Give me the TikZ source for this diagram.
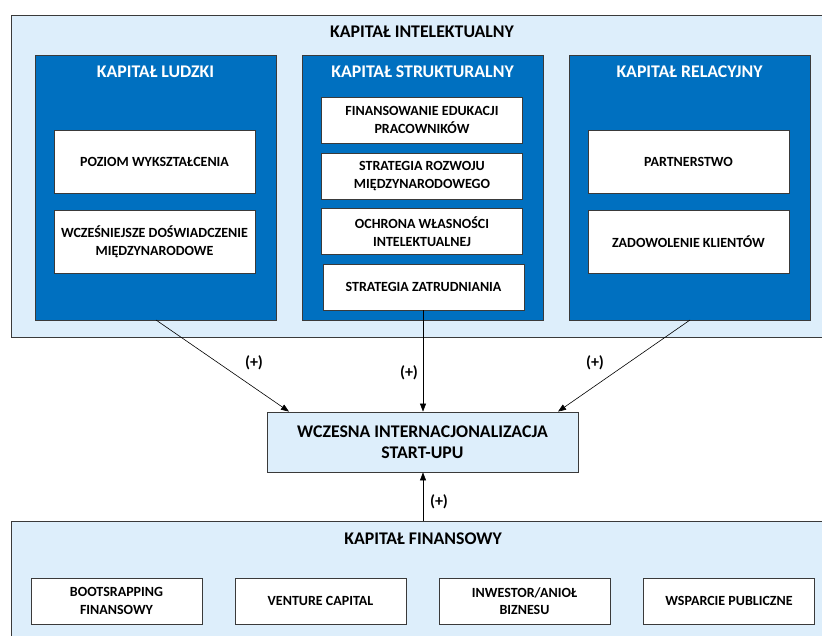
\documentclass[tikz,border=0pt]{standalone}
\usepackage{fontspec}
\setmainfont{Carlito}
\usetikzlibrary{arrows.meta}
\definecolor{paleblue}{HTML}{DDEEFB}
\definecolor{midblue}{HTML}{0070C0}
\definecolor{edge}{HTML}{3A3A3A}
\tikzset{
  frame/.style={draw=edge, line width=0.8pt, fill=paleblue},
  pillar/.style={draw=edge, line width=0.8pt, fill=midblue},
  itembox/.style={draw=edge, line width=0.8pt, fill=white, align=center,
    font=\bfseries\fontsize{14}{17.5}\selectfont, inner sep=0pt},
  head/.style={font=\bfseries\fontsize{17.8}{20}\selectfont},
  pillarhead/.style={font=\bfseries\fontsize{17.8}{20}\selectfont, text=white},
  link/.style={draw=black, line width=0.6pt, -{Triangle[length=8pt,width=6pt]}},
  sign/.style={font=\bfseries\fontsize{16}{18}\selectfont}
}
\begin{document}
\begin{tikzpicture}[x=1pt,y=-1pt]
\useasboundingbox (0,0) rectangle (822,635);
\clip (0,0) rectangle (822,635);

% intellectual capital frame
\draw[frame] (11,15) rectangle (830,337);
\node[head] (intel) at (422,32) {KAPITAŁ INTELEKTUALNY};

% three pillars
\draw[pillar] (35,55) rectangle (276,320);
\draw[pillar] (302,55) rectangle (543,320);
\draw[pillar] (569,55) rectangle (810,320);
\coordinate (ludzkiB) at (156,320);
\coordinate (relB) at (690,320);
\node[pillarhead] (ludzki) at (155.5,72) {KAPITAŁ LUDZKI};
\node[pillarhead] (strukt) at (422.5,72) {KAPITAŁ STRUKTURALNY};
\node[pillarhead] (relac) at (689.5,72) {KAPITAŁ RELACYJNY};

% human capital items
\node[itembox, minimum width=201pt, minimum height=63pt] (poziom) at (154.5,161.5) {POZIOM WYKSZTAŁCENIA};
\node[itembox, minimum width=201pt, minimum height=63pt] (dosw) at (154.5,241.5) {WCZEŚNIEJSZE DOŚWIADCZENIE\\MIĘDZYNARODOWE};

% structural capital items
\node[itembox, minimum width=201pt, minimum height=46pt] (fin) at (422,120) {FINANSOWANIE EDUKACJI\\PRACOWNIKÓW};
\node[itembox, minimum width=201pt, minimum height=46pt] (rozw) at (422,176) {STRATEGIA ROZWOJU\\MIĘDZYNARODOWEGO};
\node[itembox, minimum width=201pt, minimum height=46pt] (ochr) at (422,231.5) {OCHRONA WŁASNOŚCI\\INTELEKTUALNEJ};
\node[itembox, minimum width=201pt, minimum height=46pt] (zatr) at (423.5,287) {STRATEGIA ZATRUDNIANIA};

% relational capital items
\node[itembox, minimum width=201pt, minimum height=63pt] (partn) at (688.5,161.5) {PARTNERSTWO};
\node[itembox, minimum width=201pt, minimum height=63pt] (klient) at (688.5,241.5) {ZADOWOLENIE KLIENTÓW};

% outcome
\node[draw=edge, line width=0.8pt, fill=paleblue, minimum width=311pt, minimum height=60pt,
  inner sep=0pt, align=center, font=\bfseries\fontsize{17.8}{21}\selectfont] (wi) at (422.5,442)
  {WCZESNA INTERNACJONALIZACJA\\START-UPU};

% financial capital frame
\draw[frame] (11,521) rectangle (830,645);
\coordinate (finTop) at (423,521);
\node[head] (finans) at (423,539) {KAPITAŁ FINANSOWY};
\node[itembox, minimum width=171pt, minimum height=46pt] (boot) at (116.5,601) {BOOTSRAPPING\\FINANSOWY};
\node[itembox, minimum width=171pt, minimum height=46pt] (vc) at (320.5,601) {VENTURE CAPITAL};
\node[itembox, minimum width=171pt, minimum height=46pt] (anio) at (524.5,601) {INWESTOR/ANIOŁ\\BIZNESU};
\node[itembox, minimum width=171pt, minimum height=46pt] (wsp) at (729,601) {WSPARCIE PUBLICZNE};

% influences
\draw[link] (ludzkiB) -- (wi.north west -| 289,0);
\draw[link] (zatr.south -| 423,0) -- (wi.north -| 423,0);
\draw[link] (relB) -- (wi.north -| 558,0);
\draw[link] (finTop) -- (wi.south -| 423,0);
\node[sign] (s1) at (254,363) {(+)};
\node[sign] (s2) at (409,373) {(+)};
\node[sign] (s3) at (595,363) {(+)};
\node[sign] (s4) at (439,502) {(+)};
\end{tikzpicture}
\end{document}
